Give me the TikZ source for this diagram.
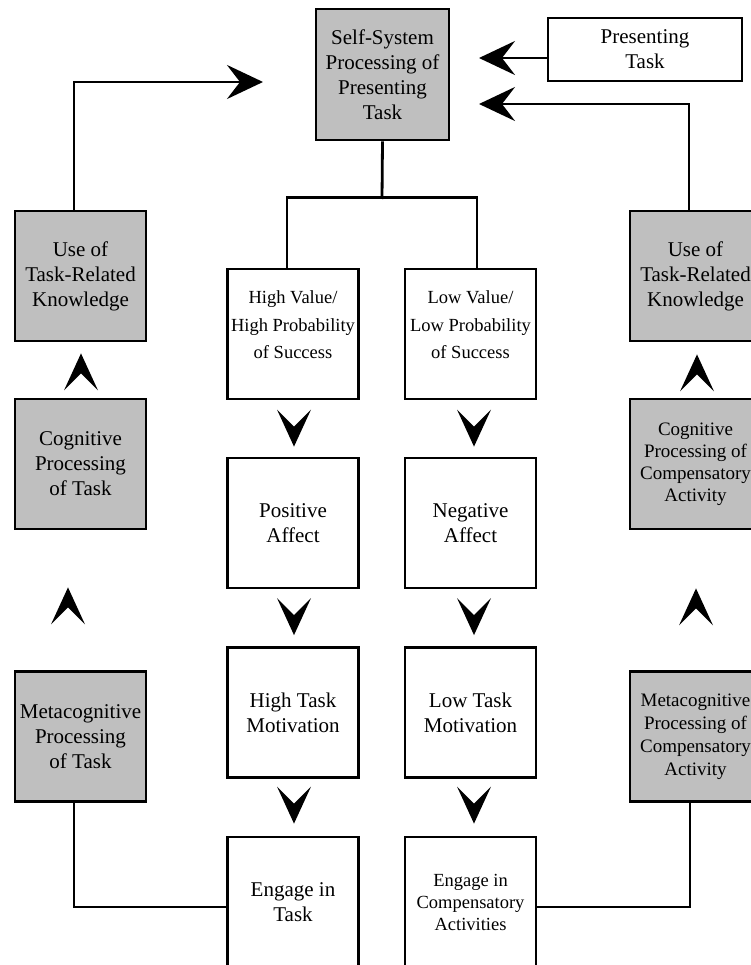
\documentclass[tikz,border=0pt]{standalone}
\usepackage{fontspec}
\setmainfont{Liberation Serif}
\usetikzlibrary{arrows.meta}
\definecolor{boxgray}{gray}{0.75}
\tikzset{
  box/.style={draw=black, line width=2.8pt, minimum width=131pt, minimum height=130pt,
    inner sep=0pt, align=center, font=\fontsize{21}{25}\selectfont},
  shaded/.style={box, fill=boxgray},
  plain/.style={box, fill=white},
  smalltext/.style={font=\fontsize{18.5}{22}\selectfont},
  valuetext/.style={align=center, inner sep=0pt, font=\fontsize{18.5}{27.5}\selectfont},
  link/.style={line width=2.8pt},
  head/.style={-{Stealth[length=36pt,width=34pt,inset=13pt]}},
  % barbed arrowhead, tip at the origin, pointing down
  arrowhead/.pic={\fill (0,0) -- (-17,-37) -- (0,-20) -- (17,-37) -- cycle;},
}
\begin{document}
\begin{tikzpicture}[x=1pt,y=-1pt]
\useasboundingbox (0,0) rectangle (751,965);
\clip (0,0) rectangle (751,965);

% top row
\node[shaded, minimum width=133pt, minimum height=131pt] (self) at (382.5,74.5)
  {Self-System\\Processing of\\Presenting\\Task};
\node[plain, minimum width=194pt, minimum height=63pt] (pres) at (645,49.5)
  {Presenting\\Task};

% left column
\node[shaded] (useL)  at (80.5,276)   {Use of\\Task-Related\\Knowledge};
\node[shaded] (cogL)  at (80.5,464)   {Cognitive\\Processing\\of Task};
\node[shaded] (metaL) at (80.5,736.5) {Metacognitive\\Processing\\of Task};

% middle columns
\node[plain] (hv) at (293,334) {};
\node[valuetext] (hvtext) at (293,325) {High Value/\\High Probability\\of Success};
\node[plain] (lv) at (470.5,334) {};
\node[valuetext] (lvtext) at (470.5,325) {Low Value/\\Low Probability\\of Success};
\node[plain] (pos) at (293,523)   {Positive\\Affect};
\node[plain] (neg) at (470.5,523) {Negative\\Affect};
\node[plain] (htm) at (293,712.5)   {High Task\\Motivation};
\node[plain] (ltm) at (470.5,712.5) {Low Task\\Motivation};
\node[plain] (eng) at (293,902)   {Engage in\\Task};
\node[plain, smalltext] (engc) at (470.5,902) {Engage in\\Compensatory\\Activities};

% right column
\node[shaded] (useR) at (695.5,276) {Use of\\Task-Related\\Knowledge};
\node[shaded, font=\fontsize{19}{22}\selectfont] (cogR) at (695.5,464)
  {Cognitive\\Processing of\\Compensatory\\Activity};
\node[shaded, font=\fontsize{19}{23}\selectfont] (metaR) at (695.5,736.5)
  {Metacognitive\\Processing of\\Compensatory\\Activity};

% free ends of the feedback arrows
\coordinate (inL) at (263,82);
\coordinate (inR) at (479,104);
\coordinate (inP) at (479,58);
\coordinate (bar) at (382,199);

% branching from the self-system
\draw[link] (self.south) -- (bar);
\draw[link] ([xshift=-6pt]hv.north) -- ++(0,-70) -| ([xshift=6.5pt]lv.north);

% arrows into the self-system
\draw[link, head] ([yshift=-8.5pt]pres.west) -- (inP);
\draw[link, head] ([xshift=-6.5pt]useL.north) |- (inL);
\draw[link, head] ([xshift=-6.5pt]useR.north) |- (inR);

% bottom connectors
\draw[link] ([xshift=-6.5pt]metaL.south) |- ([yshift=-5pt]eng.west);
\draw[link] ([xshift=-5.5pt]metaR.south) |- ([yshift=-5pt]engc.east);

% downward arrowheads in the middle
\pic at ([xshift=1pt,yshift=10pt]pos.north) {arrowhead};
\pic at ([xshift=3.5pt,yshift=10pt]neg.north) {arrowhead};
\pic at ([xshift=1pt,yshift=11pt]htm.north) {arrowhead};
\pic at ([xshift=3.5pt,yshift=11pt]ltm.north) {arrowhead};
\pic at ([xshift=1pt,yshift=12pt]eng.north) {arrowhead};
\pic at ([xshift=3.5pt,yshift=12pt]engc.north) {arrowhead};

% upward arrowheads at the sides
\pic[rotate=180] at ([xshift=0.5pt,yshift=-11pt]useL.south) {arrowhead};
\pic[rotate=180] at ([xshift=-12.5pt,yshift=-57pt]cogL.south) {arrowhead};
\pic[rotate=180] at ([xshift=1.5pt,yshift=-12pt]useR.south) {arrowhead};
\pic[rotate=180] at ([xshift=0.5pt,yshift=-58pt]cogR.south) {arrowhead};
\end{tikzpicture}
\end{document}
